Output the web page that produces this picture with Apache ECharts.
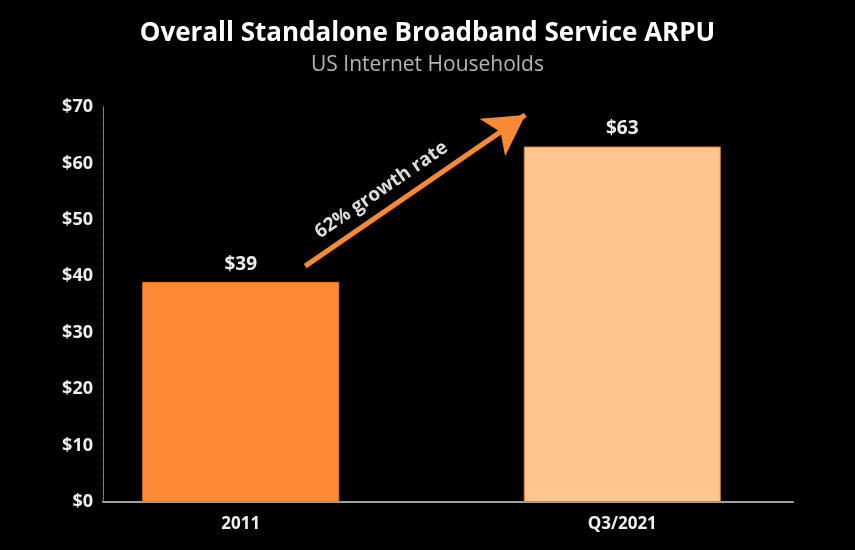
<!DOCTYPE html>
<html>
<head>
<meta charset="utf-8">
<script src="https://cdn.jsdelivr.net/npm/echarts@6/dist/echarts.min.js"></script>
<style>
html,body{margin:0;padding:0;background:#000;}
#chart{width:855px;height:550px;}
</style>
</head>
<body>
<div id="chart"></div>
<script>
var categories = ['2011', 'Q3/2021'];
var arpuValues = [39, 63];
var barColors = ['#FF8A35', '#FFC78F'];
var yTicks = [0, 10, 20, 30, 40, 50, 60, 70];
var growthLabel = '62% growth rate';
// arrow annotation endpoints in (relative x %, $ value)
var arrowStart = [29.3, 41.8];
var arrowEnd = [61.2, 68.6];

var chart = echarts.init(document.getElementById('chart'));
var font = '"Open Sans", "DejaVu Sans", sans-serif';

chart.setOption({
  backgroundColor: '#000',
  animation: false,
  title: {
    text: 'Overall Standalone Broadband Service ARPU',
    subtext: 'US Internet Households',
    left: 'center',
    top: 16,
    itemGap: 8,
    textStyle: { color: '#fff', fontFamily: font, fontWeight: 'bold', fontSize: 26 },
    subtextStyle: { color: '#b5b5b5', fontFamily: font, fontSize: 21 }
  },
  grid: [
    { left: 50, right: 42, top: 107, bottom: 48 },
    { left: 103, right: 62, top: 107, bottom: 48 }
  ],
  xAxis: [
    {
      type: 'category', gridIndex: 0, data: categories,
      axisLine: { show: false }, axisTick: { show: false },
      axisLabel: { color: '#f0f0f0', fontFamily: font, fontWeight: 'bold', fontSize: 17, margin: 14 }
    },
    {
      type: 'value', gridIndex: 1, min: 0, max: 100,
      axisLine: { show: true, lineStyle: { color: '#a0a0a0', width: 2 } },
      axisTick: { show: false }, axisLabel: { show: false }, splitLine: { show: false }
    }
  ],
  yAxis: [
    {
      type: 'value', gridIndex: 0, min: 0, max: 70, interval: 10, show: false
    },
    {
      type: 'value', gridIndex: 1, min: yTicks[0], max: yTicks[yTicks.length - 1], interval: 10,
      axisLine: { show: true, lineStyle: { color: '#9a9a9a', width: 1, type: 'dotted' } },
      axisTick: { show: false },
      splitLine: { show: false },
      axisLabel: {
        color: '#eeeeee', fontFamily: font, fontWeight: 'bold', fontSize: 18, margin: 10,
        formatter: function (v) { return '$' + v; }
      }
    }
  ],
  series: [
    {
      type: 'bar', xAxisIndex: 0, yAxisIndex: 0,
      barWidth: 197,
      data: arpuValues.map(function (v, i) {
        return { value: v, itemStyle: { color: barColors[i], borderColor: '#F07A20', borderWidth: 1 } };
      }),
      label: {
        show: true, position: 'top', distance: 8,
        color: '#eeeeee', fontFamily: font, fontWeight: 'bold', fontSize: 19,
        formatter: function (p) { return '$' + p.value; }
      }
    },
    {
      type: 'line', xAxisIndex: 1, yAxisIndex: 1, data: [], silent: true,
      markLine: {
        silent: true,
        symbol: ['none', 'arrow'],
        symbolSize: [34, 40],
        lineStyle: { color: '#FA8A35', width: 5, type: 'solid' },
        label: {
          show: true, position: 'insideMiddleTop', formatter: growthLabel,
          color: '#dddddd', fontFamily: font, fontWeight: 'bold', fontSize: 19,
          distance: 10, padding: [0, 55, 0, 0]
        },
        data: [[{ coord: arrowStart }, { coord: arrowEnd }]]
      }
    }
  ]
});
</script>
</body>
</html>
